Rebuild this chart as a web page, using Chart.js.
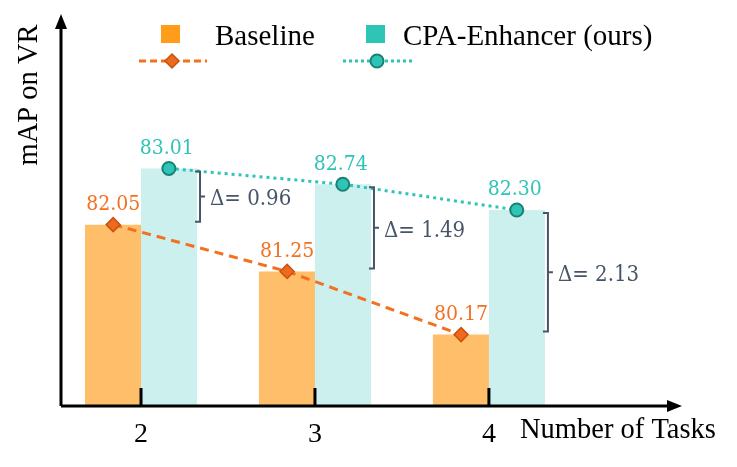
<!DOCTYPE html>
<html>
<head>
<meta charset="utf-8">
<script src="https://cdn.jsdelivr.net/npm/chart.js@4.4.1/dist/chart.umd.min.js"></script>
<style>
  html, body { margin: 0; padding: 0; background: #fff; }
  #wrap { width: 737px; height: 467px; }
</style>
</head>
<body>
<div id="wrap"><canvas id="mapChart"></canvas></div>
<script>
let tasks = [2, 3, 4]
let baseline = [82.05, 81.25, 80.17]
let enhancer = [83.01, 82.74, 82.30]
let deltas = ["0.96", "1.49", "2.13"]
let seriesNames = ["Baseline", "CPA-Enhancer (ours)"]

let orange = "rgb(255, 156, 26)"
let orangeBar = "rgba(255, 156, 26, 0.65)"
let orangeLine = "rgb(243, 112, 33)"
let teal = "rgb(46, 196, 182)"
let tealBar = "rgba(46, 196, 182, 0.25)"
let slate = "#475569"
let serif = "'Liberation Serif', 'Times New Roman', serif"
let numFont = "'DejaVu Serif Condensed', 'DejaVu Serif', serif"

// bar centres sit this far (in task units) left/right of the tick
let shift = 0.16

function drawBracket(ctx, x, y1, y2) {
    ctx.beginPath()
    ctx.moveTo(x - 5, y1)
    ctx.lineTo(x, y1)
    ctx.lineTo(x, y2)
    ctx.lineTo(x - 5, y2)
    ctx.moveTo(x, (y1 + y2) / 2)
    ctx.lineTo(x + 5, (y1 + y2) / 2)
    ctx.stroke()
}

let decorations = {
    id: 'decorations',
    afterDatasetsDraw(chart) {
        let ctx = chart.ctx
        let area = chart.chartArea
        let xs = chart.scales.x
        let ys = chart.scales.y
        ctx.save()

        // axes with arrow heads
        ctx.strokeStyle = "#000"
        ctx.fillStyle = "#000"
        ctx.lineWidth = 3
        ctx.beginPath()
        ctx.moveTo(area.left, area.bottom)
        ctx.lineTo(area.left, area.top + 12)
        ctx.moveTo(area.left, area.bottom)
        ctx.lineTo(area.right - 12, area.bottom)
        ctx.stroke()
        ctx.beginPath()
        ctx.moveTo(area.left, area.top)
        ctx.lineTo(area.left - 6, area.top + 15)
        ctx.lineTo(area.left + 6, area.top + 15)
        ctx.closePath()
        ctx.fill()
        ctx.beginPath()
        ctx.moveTo(area.right, area.bottom)
        ctx.lineTo(area.right - 15, area.bottom - 6)
        ctx.lineTo(area.right - 15, area.bottom + 6)
        ctx.closePath()
        ctx.fill()

        // inward tick marks
        tasks.forEach(function (t) {
            let px = xs.getPixelForValue(t)
            ctx.beginPath()
            ctx.moveTo(px, area.bottom)
            ctx.lineTo(px, area.bottom - 18)
            ctx.stroke()
        })

        // axis titles
        ctx.font = "28.5px " + serif
        ctx.textBaseline = "middle"
        ctx.textAlign = "left"
        ctx.fillText("Number of Tasks", 520, area.bottom + 25)
        ctx.save()
        ctx.translate(30, 95)
        ctx.rotate(-Math.PI / 2)
        ctx.textAlign = "center"
        ctx.fillText("mAP on VR", 0, 0)
        ctx.restore()

        // value labels
        ctx.font = "21px " + numFont
        ctx.textAlign = "center"
        let lineMetaB = chart.getDatasetMeta(2)
        let lineMetaE = chart.getDatasetMeta(3)
        lineMetaB.data.forEach(function (pt, i) {
            ctx.fillStyle = orangeLine
            ctx.fillText(baseline[i].toFixed(2), pt.x, pt.y - 20)
        })
        lineMetaE.data.forEach(function (pt, i) {
            ctx.fillStyle = teal
            ctx.fillText(enhancer[i].toFixed(2), pt.x - 2, pt.y - 20)
        })

        // delta brackets
        let barMetaE = chart.getDatasetMeta(1)
        ctx.strokeStyle = slate
        ctx.fillStyle = slate
        ctx.lineWidth = 2
        ctx.font = "22px " + numFont
        ctx.textAlign = "left"
        barMetaE.data.forEach(function (bar, i) {
            let bx = bar.x + bar.width / 2 + 3
            let y1 = ys.getPixelForValue(enhancer[i]) + 3
            let y2 = ys.getPixelForValue(baseline[i]) - 3
            drawBracket(ctx, bx, y1, y2)
            ctx.fillText("\u0394= " + deltas[i], bx + 10, (y1 + y2) / 2 + 3)
        })

        // legend
        ctx.fillStyle = orange
        ctx.fillRect(161, 25, 19, 18)
        ctx.fillStyle = teal
        ctx.fillRect(366, 25, 19, 18)
        ctx.fillStyle = "#000"
        ctx.font = "29px " + serif
        ctx.fillText(seriesNames[0], 215, 37)
        ctx.fillText(seriesNames[1], 403, 37)

        ctx.lineWidth = 3
        ctx.strokeStyle = orangeLine
        ctx.setLineDash([7, 4])
        ctx.beginPath()
        ctx.moveTo(139, 61)
        ctx.lineTo(207, 61)
        ctx.stroke()
        ctx.strokeStyle = teal
        ctx.setLineDash([3, 3])
        ctx.beginPath()
        ctx.moveTo(343, 61)
        ctx.lineTo(413, 61)
        ctx.stroke()
        ctx.setLineDash([])

        ctx.fillStyle = "rgb(238, 106, 28)"
        ctx.strokeStyle = "rgb(200, 82, 20)"
        ctx.lineWidth = 1.5
        ctx.beginPath()
        ctx.moveTo(172, 54)
        ctx.lineTo(179, 61)
        ctx.lineTo(172, 68)
        ctx.lineTo(165, 61)
        ctx.closePath()
        ctx.fill()
        ctx.stroke()
        ctx.fillStyle = teal
        ctx.strokeStyle = "rgb(27, 129, 119)"
        ctx.lineWidth = 2
        ctx.beginPath()
        ctx.arc(377, 61, 6.5, 0, Math.PI * 2)
        ctx.fill()
        ctx.stroke()

        ctx.restore()
    }
}

let ctx = document.getElementById('mapChart').getContext('2d')
var chart = new Chart(ctx, {
    type: 'bar',
    data: {
        datasets: [{
            label: seriesNames[0],
            data: tasks.map(function (t, i) { return { x: t, y: baseline[i] } }),
            backgroundColor: orangeBar,
            categoryPercentage: 0.644,
            barPercentage: 1.0,
            order: 2
        }, {
            label: seriesNames[1],
            data: tasks.map(function (t, i) { return { x: t, y: enhancer[i] } }),
            backgroundColor: tealBar,
            categoryPercentage: 0.644,
            barPercentage: 1.0,
            order: 2
        }, {
            type: 'line',
            label: seriesNames[0],
            data: tasks.map(function (t, i) { return { x: t - shift, y: baseline[i] } }),
            borderColor: orangeLine,
            borderWidth: 3,
            borderDash: [9, 6],
            pointStyle: 'rectRot',
            pointRadius: 7,
            pointBackgroundColor: "rgb(238, 106, 28)",
            pointBorderColor: "rgb(200, 82, 20)",
            pointBorderWidth: 1.5,
            order: 0
        }, {
            type: 'line',
            label: seriesNames[1],
            data: tasks.map(function (t, i) { return { x: t + shift, y: enhancer[i] } }),
            borderColor: teal,
            borderWidth: 3,
            borderDash: [3, 4],
            pointStyle: 'circle',
            pointRadius: 6.5,
            pointBackgroundColor: teal,
            pointBorderColor: "rgb(27, 129, 119)",
            pointBorderWidth: 2,
            order: 0
        }]
    },
    options: {
        responsive: true,
        maintainAspectRatio: false,
        animation: false,
        layout: { padding: { left: 61, right: 55, top: 14, bottom: 20 } },
        plugins: {
            legend: { display: false },
            tooltip: { enabled: false }
        },
        scales: {
            x: {
                type: 'linear',
                offset: false,
                min: 1.54,
                max: 5.11,
                grid: { display: false, drawTicks: false, offset: false },
                border: { display: false },
                afterBuildTicks: function (scale) {
                    scale.ticks = tasks.map(function (t) { return { value: t } })
                },
                afterFit: function (scale) {
                    scale.height = 41
                },
                ticks: {
                    padding: 12,
                    color: "#000",
                    font: { family: serif, size: 28 },
                    callback: function (v) { return String(v) }
                }
            },
            y: {
                display: false,
                min: 78.95,
                max: 85.65
            }
        }
    },
    plugins: [decorations]
})
</script>
</body>
</html>
